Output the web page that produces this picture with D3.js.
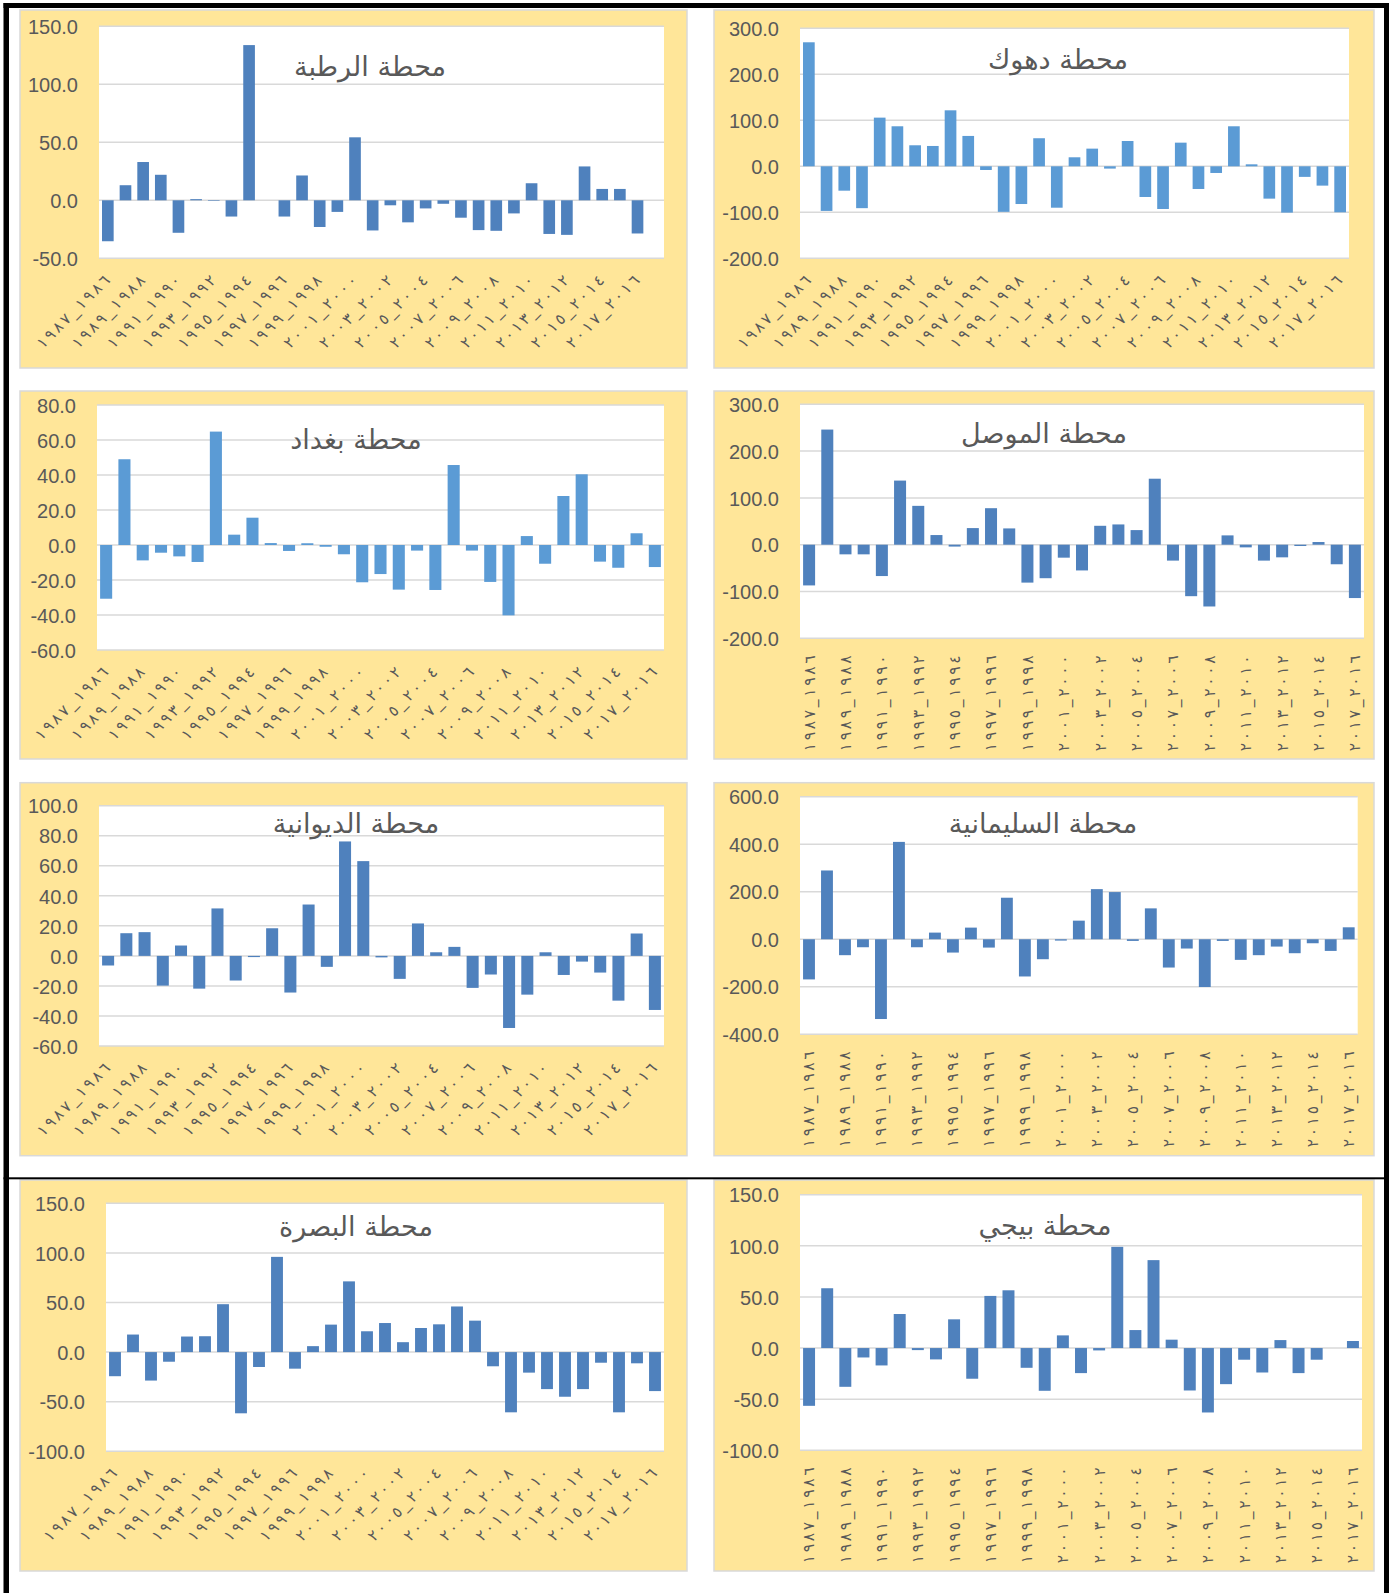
<!DOCTYPE html>
<html><head><meta charset="utf-8">
<script src="https://cdn.jsdelivr.net/npm/d3@7"></script>
<style>body{margin:0;background:#fff} svg{display:block}</style>
</head><body>
<svg id="c" width="1389" height="1593"></svg>
<script>
// ---------- DATA ----------
const categories = ["١٩٨٧_١٩٨٦","١٩٨٨_١٩٨٧","١٩٨٩_١٩٨٨","١٩٩٠_١٩٨٩","١٩٩١_١٩٩٠","١٩٩٢_١٩٩١","١٩٩٣_١٩٩٢","١٩٩٤_١٩٩٣","١٩٩٥_١٩٩٤","١٩٩٦_١٩٩٥","١٩٩٧_١٩٩٦","١٩٩٨_١٩٩٧","١٩٩٩_١٩٩٨","٢٠٠٠_١٩٩٩","٢٠٠١_٢٠٠٠","٢٠٠٢_٢٠٠١","٢٠٠٣_٢٠٠٢","٢٠٠٤_٢٠٠٣","٢٠٠٥_٢٠٠٤","٢٠٠٦_٢٠٠٥","٢٠٠٧_٢٠٠٦","٢٠٠٨_٢٠٠٧","٢٠٠٩_٢٠٠٨","٢٠١٠_٢٠٠٩","٢٠١١_٢٠١٠","٢٠١٢_٢٠١١","٢٠١٣_٢٠١٢","٢٠١٤_٢٠١٣","٢٠١٥_٢٠١٤","٢٠١٦_٢٠١٥","٢٠١٧_٢٠١٦"];
const tickCategories = ["١٩٨٧_١٩٨٦","١٩٨٩_١٩٨٨","١٩٩١_١٩٩٠","١٩٩٣_١٩٩٢","١٩٩٥_١٩٩٤","١٩٩٧_١٩٩٦","١٩٩٩_١٩٩٨","٢٠٠١_٢٠٠٠","٢٠٠٣_٢٠٠٢","٢٠٠٥_٢٠٠٤","٢٠٠٧_٢٠٠٦","٢٠٠٩_٢٠٠٨","٢٠١١_٢٠١٠","٢٠١٣_٢٠١٢","٢٠١٥_٢٠١٤","٢٠١٧_٢٠١٦"];
// the Rutba chart keeps one empty category slot after the last season
const emptyCategory = " ";

const titles = ["محطة الرطبة","محطة دهوك","محطة بغداد","محطة الموصل","محطة الديوانية","محطة السليمانية","محطة البصرة","محطة بيجي"];

const rutba = [-35.3,13,33,22,-28,1,-0.5,-14,133.8,0,-14,21.4,-23,-10,54.3,-26,-4.3,-19,-7,-3,-15,-25.7,-26.3,-11.3,14.7,-29,-29.8,29.2,9.8,9.8,-28.6];
const dohuk = [269.6,-97,-53,-91,105.8,87,45.7,44.2,121.7,66,-8,-99,-82,61,-90,19.6,38.4,-5,55,-66.7,-92.8,51.4,-49.3,-14.5,87,4.3,-70.3,-100.7,-23,-42,-100];
const baghdad = [-30.7,49,-8.8,-4.4,-6.5,-9.7,64.8,5.9,15.6,1.1,-3.4,1.0,-1.0,-5.3,-21.3,-16.6,-25.5,-3.2,-25.7,45.7,-3.2,-21.1,-40.2,5.1,-10.7,28,40.4,-9.5,-13,6.7,-12.6];
const mosul = [-87,246,-20.6,-20.6,-67,137,83,20.6,-4,35.5,78,34.8,-81,-71.6,-27.7,-55,40.4,43.3,31.2,141,-34,-110,-132,19.9,-5.7,-34,-27,-2.8,5.7,-41.8,-114];
const diwaniya = [-6.4,15.1,15.8,-19.8,6.9,-21.8,31.6,-16.4,-0.8,18.4,-24.4,34.2,-7.3,76.2,63.1,-1,-15.3,21.6,2.4,6,-21.3,-12.4,-48,-25.8,2.4,-12.7,-3.8,-11.1,-29.8,14.9,-36];
const sulaymaniyah = [-169,289.5,-67,-33.6,-335.7,409.8,-33.6,28,-56,49,-35,174.8,-156.6,-84,-5.6,78.3,211,198.6,-7,130,-119,-39,-201,-7,-86.7,-67,-30.8,-58.7,-16.8,-49,50.3];
const basra = [-24.3,17.7,-28.7,-9.7,15.7,16,48.3,-61.7,-15,96,-16.7,6,27.7,71.3,21,29.3,10,24.3,28,46,31.7,-14.3,-60.7,-20.7,-37.3,-45,-37.3,-10.7,-60.7,-11.3,-39.3];
const baiji = [-56.5,58.5,-37.9,-9.2,-17,33.3,-2,-11.1,28.1,-30,51,56.5,-19.3,-41.8,12.4,-24.5,-2.3,99,17.6,86,8.2,-41.5,-63,-35.3,-11.4,-23.9,7.8,-24.5,-11.4,0,6.9];

const seriesList = [rutba, dohuk, baghdad, mosul, diwaniya, sulaymaniyah, basra, baiji];
const yDomains = [[-50,150],[-200,300],[-60,80],[-200,300],[-60,100],[-400,600],[-100,150],[-100,150]];
const yTickSteps = [50,100,20,100,20,200,50,50];

// ---------- LAYOUT / STYLE ----------
const layout = [
  {box:[20,10,687,368],     plot:[99,26.3,664,258.3],   yLabelX:78,  title:[370,76],   color:"#4f81bd", vertical:false, extraSlot:true},
  {box:[714,10,1374,368],   plot:[800,28.3,1349,258.3], yLabelX:779, title:[1058,69],  color:"#5b9bd5", vertical:false},
  {box:[20,391,687,759],    plot:[97,405,664,650],      yLabelX:76,  title:[356,449],  color:"#5b9bd5", vertical:false},
  {box:[714,391,1374,759],  plot:[800,404.3,1364,638.3],yLabelX:779, title:[1044,443], color:"#4f81bd", vertical:true},
  {box:[20,782.7,687,1155.7],plot:[99,805.7,664,1046],  yLabelX:78,  title:[356,833],  color:"#4f81bd", vertical:false},
  {box:[714,782.7,1374,1155.7],plot:[800,796.7,1357.7,1034.3],yLabelX:779,title:[1043,833],color:"#4f81bd",vertical:true},
  {box:[20,1180,687,1571],  plot:[106,1203.3,664,1451.3],yLabelX:85, title:[356,1236], color:"#4f81bd", vertical:false},
  {box:[714,1180,1374,1571],plot:[800,1194.7,1362,1450.3],yLabelX:779,title:[1045,1235],color:"#4f81bd",vertical:true}
];
const textColor = "#595959";
const arabicFont = "'DejaVu Sans', 'Noto Sans', sans-serif";
const numFont = "'Liberation Sans', Arial, sans-serif";

const svg = d3.select("#c");
svg.append("rect").attr("width",1389).attr("height",1593).attr("fill","#fff");

function measure(txt, family, size, ltr){
  const t = svg.append("text").attr("font-family",family).attr("font-size",size).text(txt);
  if(ltr) t.attr("direction","ltr").attr("unicode-bidi","bidi-override");
  const w = t.node().getComputedTextLength(); t.remove(); return w;
}
const titleTargets = [152,142,128,166.5,165,179,156,134];
const ratios = titles.map((t,i)=> titleTargets[i]/measure(t, arabicFont, 100));
ratios.sort((a,b)=>a-b);
const titleSize = 100*(ratios[3]+ratios[4])/2;
const labelSize = 15.5;
const labelLen = 96;
const labelSpacing = Math.max(0,(labelLen - measure(categories[0], arabicFont, labelSize, true))/8);

// spread the characters of a tick label (letter-spacing is ignored for Arabic digits)
function spreadLabel(sel){
  sel.each(function(){
    const t = d3.select(this);
    const s = t.text();
    t.text(null);
    Array.from(s).forEach((ch,i)=>{
      t.append("tspan").attr("dx", i===0 ? 0 : labelSpacing)
        .attr("direction","ltr").attr("unicode-bidi","bidi-override").text(ch);
    });
  });
}

layout.forEach((L,pi)=>{
  const values = seriesList[pi];
  const [bx0,by0,bx1,by1] = L.box;
  const [px0,py0,px1,py1] = L.plot;
  const g = svg.append("g");
  g.append("rect").attr("x",bx0).attr("y",by0).attr("width",bx1-bx0).attr("height",by1-by0)
    .attr("fill","#ffe699").attr("stroke","#d9d9d9").attr("stroke-width",1.5);
  g.append("rect").attr("x",px0).attr("y",py0).attr("width",px1-px0).attr("height",py1-py0).attr("fill","#fff");

  const domainCats = L.extraSlot ? categories.concat([emptyCategory]) : categories;
  const x = d3.scaleBand().domain(domainCats).range([px0,px1]).paddingInner(0.34).paddingOuter(0.17);
  const y = d3.scaleLinear().domain(yDomains[pi]).range([py1,py0]);
  const ticks = d3.range(yDomains[pi][0], yDomains[pi][1]+yTickSteps[pi]/2, yTickSteps[pi]);

  g.selectAll("line.grid").data(ticks).join("line").attr("class","grid")
    .attr("x1",px0).attr("x2",px1).attr("y1",d=>y(d)).attr("y2",d=>y(d))
    .attr("stroke","#d9d9d9").attr("stroke-width",1.5);

  g.selectAll("rect.bar").data(values).join("rect").attr("class","bar")
    .attr("x",(d,i)=>x(categories[i])).attr("width",x.bandwidth())
    .attr("y",d=>y(Math.max(0,d))).attr("height",d=>Math.abs(y(d)-y(0)))
    .attr("fill",L.color);

  // y axis
  const ya = g.append("g").attr("transform",`translate(${L.yLabelX},0)`)
    .call(d3.axisLeft(y).tickValues(ticks).tickSize(0).tickPadding(0).tickFormat(d=>d.toFixed(1)));
  ya.select(".domain").remove();
  ya.selectAll("text").attr("font-family",numFont).attr("font-size",20).attr("fill",textColor).attr("dy","0.36em");

  // x axis
  const xa = g.append("g").attr("transform",`translate(0,${py1})`)
    .call(d3.axisBottom(x).tickValues(tickCategories).tickSize(0));
  xa.select(".domain").remove();
  const xt = xa.selectAll("text").attr("font-family",arabicFont).attr("font-size",labelSize).attr("fill",textColor)
    .attr("direction","ltr").attr("unicode-bidi","bidi-override")
    .attr("text-anchor","end").attr("x",0).attr("y",0).attr("dy",0)
    .attr("transform", L.vertical ? `translate(${labelSize*0.35},17) rotate(-90)` : `translate(3,23) rotate(-45)`);
  spreadLabel(xt);

  // title
  g.append("text").attr("x",L.title[0]).attr("y",L.title[1]).attr("text-anchor","middle")
    .attr("font-family",arabicFont).attr("font-size",titleSize).attr("fill",textColor).text(titles[pi]);
});

// black frame
const frame = svg.append("g").attr("fill","#000");
frame.append("rect").attr("x",3.5).attr("y",3).attr("width",1385.5).attr("height",5);
frame.append("rect").attr("x",3.5).attr("y",3).attr("width",5.5).attr("height",1590);
frame.append("rect").attr("x",1384).attr("y",3).attr("width",5).attr("height",1590);
frame.append("rect").attr("x",3.5).attr("y",1177.3).attr("width",1381).attr("height",2);
</script>
</body></html>
